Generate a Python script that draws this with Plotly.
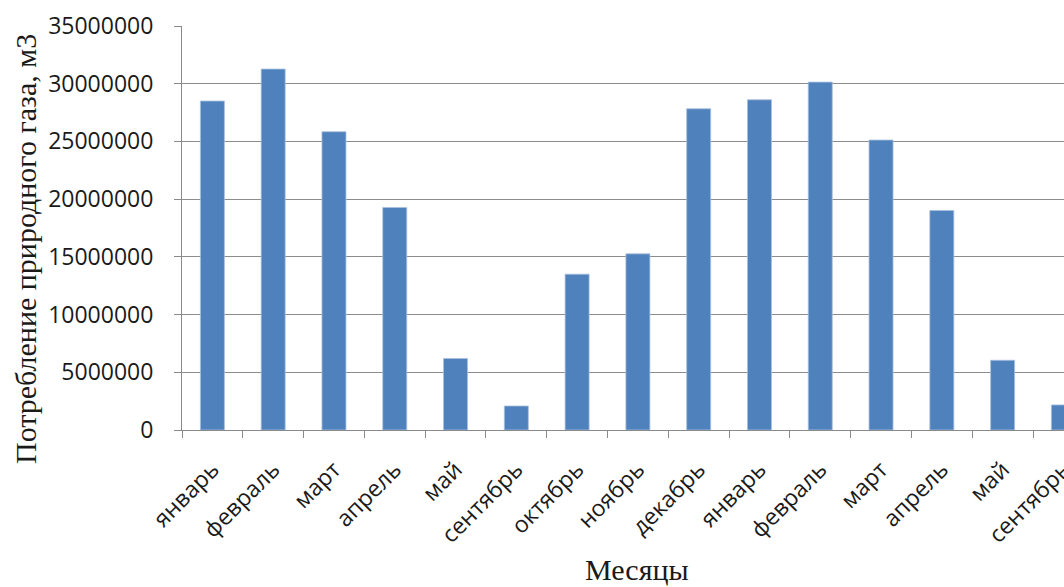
import plotly.graph_objects as go

# Monthly natural gas consumption, m3
months = ["январь", "февраль", "март", "апрель", "май", "сентябрь", "октябрь",
          "ноябрь", "декабрь", "январь", "февраль", "март", "апрель", "май", "сентябрь"]
consumption = [28500000, 31270000, 25840000, 19280000, 6190000, 2080000, 13500000,
               15260000, 27830000, 28610000, 30140000, 25120000, 19020000, 6040000, 2170000]
y_ticks = [0, 5000000, 10000000, 15000000, 20000000, 25000000, 30000000, 35000000]

positions = list(range(len(months)))
boundaries = [p - 0.5 for p in range(len(months) + 1)]

W, H = 1064, 587
ML, MR, MT, MB = 182, 0, 26, 157
plot_w = W - ML - MR
plot_h = H - MT - MB

axis_grey = "#8a8a8a"
tick_font = dict(family="Open Sans, Liberation Sans, sans-serif", size=23, color="#1a1a1a")
title_font = dict(family="Liberation Serif, Times New Roman, serif", size=30, color="#1a1a1a")

fig = go.Figure(
    go.Bar(
        x=positions,
        y=consumption,
        width=0.395,
        marker=dict(color="#4f81bd", line=dict(color="#a9c0de", width=0.8)),
        hoverinfo="y",
    )
)

fig.update_layout(
    width=W,
    height=H,
    margin=dict(l=ML, r=MR, t=MT, b=MB, pad=0, autoexpand=False),
    paper_bgcolor="white",
    plot_bgcolor="white",
    showlegend=False,
    xaxis=dict(
        range=[-0.5, 14.01],
        automargin=False,
        tickmode="array",
        tickvals=positions,
        ticktext=months,
        tickangle=-45,
        ticks="",
        ticklabelstandoff=16,
        ticklabeloverflow="allow",
        tickfont=tick_font,
        showline=True,
        linecolor=axis_grey,
        linewidth=1,
        showgrid=False,
        zeroline=False,
        minor=dict(tickvals=boundaries, ticks="outside", ticklen=7,
                   tickcolor=axis_grey, tickwidth=1, showgrid=False),
    ),
    yaxis=dict(
        range=[0, 35000000],
        automargin=False,
        tickmode="array",
        tickvals=y_ticks,
        tickformat="d",
        ticks="outside",
        ticklen=7,
        tickcolor=axis_grey,
        ticklabelstandoff=16,
        tickfont=tick_font,
        showline=True,
        linecolor=axis_grey,
        linewidth=1,
        showgrid=True,
        gridcolor="#8c8c8c",
        gridwidth=1.2,
        zeroline=False,
    ),
    annotations=[
        dict(text="Потребление природного газа, м3", textangle=-90,
             xref="paper", yref="paper",
             x=(25 - ML) / plot_w, y=(MT + plot_h - 249) / plot_h,
             xanchor="center", yanchor="middle", showarrow=False, font=title_font),
        dict(text="Месяцы",
             xref="paper", yref="paper",
             x=(637 - ML) / plot_w, y=(MT + plot_h - 569) / plot_h,
             xanchor="center", yanchor="middle", showarrow=False, font=title_font),
    ],
)

fig.write_html("out.html")
